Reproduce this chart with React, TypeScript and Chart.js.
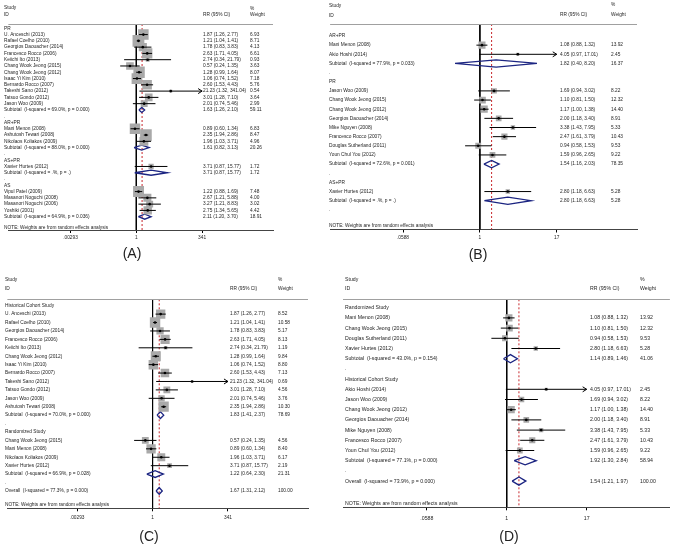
import React, { useEffect, useRef } from "react";
import { Chart, registerables } from "chart.js";
Chart.register(...registerables);

// ---------------- Panel A data ----------------
const A_labels = [
  "PR", "U. Anceschi (2013)", "Rafael Coelho (2010)", "Georgios Daouacher (2014)", "Francesco Rocco (2006)",
  "Keiichi Ito (2013)", "Chang Wook Jeong (2015)", "Chang Wook Jeong (2012)", "Isaac Yi Kim (2010)",
  "Bernardo Rocco (2007)", "Takeshi Sano (2012)", "Tatsuo Gondo (2012)", "Jason Woo (2009)",
  "Subtotal  (I-squared = 69.0%, p = 0.000)", ".", "AR+PR", "Mani Menon (2008)", "Ashutosh Tewari (2008)",
  "Nikolaos Koliakos (2009)", "Subtotal  (I-squared = 88.0%, p = 0.000)", ".", "AS+PR", "Xavier Hurtes (2012)",
  "Subtotal  (I-squared = .%, p = .)", ".", "AS", "Vipul Patel (2009)", "Masanori Noguchi (2008)",
  "Masanori Noguchi (2006)", "Yoshiki (2001)", "Subtotal  (I-squared = 64.9%, p = 0.036)",
];
const A_est = [null, 1.87, 1.21, 1.78, 2.63, 2.74, 0.57, 1.28, 1.06, 2.6, 21.23, 3.01, 2.01, 1.63, null, null, 0.89, 2.35, 1.96, 1.61, null, null, 3.71, 3.71, null, null, 1.22, 2.67, 3.27, 2.75, 2.11];
const A_lo = [null, 1.26, 1.04, 0.83, 1.71, 0.34, 0.24, 0.99, 0.74, 1.53, 1.32, 1.28, 0.74, 1.26, null, null, 0.6, 1.94, 1.03, 0.82, null, null, 0.87, 0.87, null, null, 0.88, 1.21, 1.21, 1.34, 1.2];
const A_hi = [null, 2.77, 1.41, 3.83, 4.05, 21.79, 1.35, 1.64, 1.52, 4.43, 341.04, 7.1, 5.46, 2.1, null, null, 1.34, 2.86, 3.71, 3.13, null, null, 15.77, 15.77, null, null, 1.69, 5.88, 8.83, 5.65, 3.7];
const A_wt = [null, 6.93, 8.71, 4.13, 6.61, 0.93, 3.63, 8.07, 7.18, 5.76, 0.54, 3.64, 2.99, 59.11, null, null, 6.83, 8.47, 4.96, 20.26, null, null, 1.72, 1.72, null, null, 7.48, 4.0, 3.02, 4.42, 18.91];

// ---------------- Panel B data ----------------
const B_labels = [
  "AR+PR", "Mani Menon (2008)", "Akio Hoshi (2014)", "Subtotal  (I-squared = 77.9%, p = 0.033)", ".",
  "PR", "Jason Woo (2009)", "Chang Wook Jeong (2015)", "Chang Wook Jeong (2012)", "Georgios Daouacher (2014)",
  "Mike Nguyen (2008)", "Francesco Rocco (2007)", "Douglas Sutherland (2011)", "Youn Chul You (2012)",
  "Subtotal  (I-squared = 72.6%, p = 0.001)", ".", "AS+PR", "Xavier Hurtes (2012)",
  "Subtotal  (I-squared = .%, p = .)", ".",
];
const B_est = [null, 1.08, 4.05, 1.82, null, null, 1.69, 1.1, 1.17, 2.0, 3.38, 2.47, 0.94, 1.59, 1.54, null, null, 2.8, 2.8, null];
const B_lo = [null, 0.88, 0.97, 0.4, null, null, 0.94, 0.81, 1.0, 1.18, 1.43, 1.61, 0.58, 0.96, 1.16, null, null, 1.18, 1.18, null];
const B_hi = [null, 1.32, 17.01, 8.2, null, null, 3.02, 1.5, 1.38, 3.4, 7.95, 3.79, 1.53, 2.65, 2.03, null, null, 6.63, 6.63, null];
const B_wt = [null, 13.92, 2.45, 16.37, null, null, 8.22, 12.32, 14.4, 8.91, 5.33, 10.43, 9.53, 9.22, 78.35, null, null, 5.28, 5.28, null];

// ---------------- Panel C data ----------------
const C_labels = [
  "Historical Cohort Study", "U. Anceschi (2013)", "Rafael Coelho (2010)", "Georgios Daouacher (2014)",
  "Francesco Rocco (2006)", "Keiichi Ito (2013)", "Chang Wook Jeong (2012)", "Isaac Yi Kim (2010)",
  "Bernardo Rocco (2007)", "Takeshi Sano (2012)", "Tatsuo Gondo (2012)", "Jason Woo (2009)",
  "Ashutosh Tewari (2008)", "Subtotal  (I-squared = 70.0%, p = 0.000)", ".", "Randomized Study",
  "Chang Wook Jeong (2015)", "Mani Menon (2008)", "Nikolaos Koliakos (2009)", "Xavier Hurtes (2012)",
  "Subtotal  (I-squared = 66.9%, p = 0.028)", ".", "Overall  (I-squared = 77.3%, p = 0.000)",
];
const C_est = [null, 1.87, 1.21, 1.78, 2.63, 2.74, 1.28, 1.06, 2.6, 21.23, 3.01, 2.01, 2.35, 1.83, null, null, 0.57, 0.89, 1.96, 3.71, 1.22, null, 1.67];
const C_lo = [null, 1.26, 1.04, 0.83, 1.71, 0.34, 0.99, 0.74, 1.53, 1.32, 1.28, 0.74, 1.94, 1.41, null, null, 0.24, 0.6, 1.03, 0.87, 0.64, null, 1.31];
const C_hi = [null, 2.77, 1.41, 3.83, 4.05, 21.79, 1.64, 1.52, 4.43, 341.04, 7.1, 5.46, 2.86, 2.37, null, null, 1.35, 1.34, 3.71, 15.77, 2.3, null, 2.12];
const C_wt = [null, 8.52, 10.58, 5.17, 8.13, 1.19, 9.84, 8.8, 7.13, 0.69, 4.56, 3.76, 10.3, 78.69, null, null, 4.56, 8.4, 6.17, 2.19, 21.31, null, 100.0];

// ---------------- Panel D data ----------------
const D_labels = [
  "Randomized Study", "Mani Menon (2008)", "Chang Wook Jeong (2015)", "Douglas Sutherland (2011)",
  "Xavier Hurtes (2012)", "Subtotal  (I-squared = 43.0%, p = 0.154)", ".", "Historical Cohort Study",
  "Akio Hoshi (2014)", "Jason Woo (2009)", "Chang Wook Jeong (2012)", "Georgios Daouacher (2014)",
  "Mike Nguyen (2008)", "Francesco Rocco (2007)", "Youn Chul You (2012)",
  "Subtotal  (I-squared = 77.1%, p = 0.000)", ".", "Overall  (I-squared = 73.9%, p = 0.000)",
];
const D_est = [null, 1.08, 1.1, 0.94, 2.8, 1.14, null, null, 4.05, 1.69, 1.17, 2.0, 3.38, 2.47, 1.59, 1.92, null, 1.54];
const D_lo = [null, 0.88, 0.81, 0.58, 1.18, 0.89, null, null, 0.97, 0.94, 1.0, 1.18, 1.43, 1.61, 0.96, 1.3, null, 1.21];
const D_hi = [null, 1.32, 1.5, 1.53, 6.63, 1.46, null, null, 17.01, 3.02, 1.38, 3.4, 7.95, 3.79, 2.65, 2.84, null, 1.97];
const D_wt = [null, 13.92, 12.32, 9.53, 5.28, 41.06, null, null, 2.45, 8.22, 14.4, 8.91, 5.33, 10.43, 9.22, 58.94, null, 100.0];

// ---------------- axes ----------------
const ticksWide = [0.00293, 1, 341];
const ticksWideLabels = [".00293", "1", "341"];
const ticksNarrow = [0.0588, 1, 17];
const ticksNarrowLabels = [".0588", "1", "17"];
const overallAC = 1.67;
const overallBD = 1.54;

const NOTE = "NOTE: Weights are from random effects analysis";
const FONT = '"Liberation Sans", Arial, sans-serif';

type Layout = {
  left: number; top: number; w: number; h: number;
  axisL: number; axisR: number; one: number; k: number;
  headerY: number; axisY: number; row0: number; step: number; noteY: number;
  labelX: number; ciX: number; wtX: number;
  studyY: number; idY: number; pctY: number; rrY: number;
  font: number; tickPad: number; boxK: number; letterX: number; letterY: number;
};

type Panel = {
  labels: string[]; est: (number | null)[]; lo: (number | null)[]; hi: (number | null)[]; wt: (number | null)[];
  overall: number; tickVals: number[]; tickLabels: string[]; letter: string; lay: Layout;
};

const panels: Panel[] = [
  {
    labels: A_labels, est: A_est, lo: A_lo, hi: A_hi, wt: A_wt, overall: overallAC,
    tickVals: ticksWide, tickLabels: ticksWideLabels, letter: "(A)",
    lay: {
      left: 0, top: 0, w: 325, h: 270, axisL: 1, axisR: 273, one: 132.5, k: 11.6,
      headerY: 24, axisY: 230, row0: 28.3, step: 6.28, noteY: 227.3,
      labelX: 4, ciX: 203, wtX: 250, studyY: 8, idY: 15, pctY: 9, rrY: 15,
      font: 4.8, tickPad: 2, boxK: 4.0, letterX: 132, letterY: 254,
    },
  },
  {
    labels: B_labels, est: B_est, lo: B_lo, hi: B_hi, wt: B_wt, overall: overallBD,
    tickVals: ticksNarrow, tickLabels: ticksNarrowLabels, letter: "(B)",
    lay: {
      left: 325, top: 0, w: 350, h: 270, axisL: 327, axisR: 637, one: 478.3, k: 27.4,
      headerY: 24, axisY: 229.5, row0: 36, step: 9.15, noteY: 225.7,
      labelX: 329, ciX: 560, wtX: 611, studyY: 6, idY: 16, pctY: 5, rrY: 15,
      font: 4.8, tickPad: 2.5, boxK: 1.9, letterX: 478, letterY: 255,
    },
  },
  {
    labels: C_labels, est: C_est, lo: C_lo, hi: C_hi, wt: C_wt, overall: overallAC,
    tickVals: ticksWide, tickLabels: ticksWideLabels, letter: "(C)",
    lay: {
      left: 0, top: 270, w: 325, h: 274, axisL: 1, axisR: 308, one: 149.3, k: 13.2,
      headerY: 299.3, axisY: 508.3, row0: 305.7, step: 8.42, noteY: 504.3,
      labelX: 5, ciX: 230, wtX: 278, studyY: 280, idY: 289, pctY: 280, rrY: 289,
      font: 4.8, tickPad: 3, boxK: 3.2, letterX: 149, letterY: 537,
    },
  },
  {
    labels: D_labels, est: D_est, lo: D_lo, hi: D_hi, wt: D_wt, overall: overallBD,
    tickVals: ticksNarrow, tickLabels: ticksNarrowLabels, letter: "(D)",
    lay: {
      left: 325, top: 270, w: 350, h: 274, axisL: 343, axisR: 675, one: 509.3, k: 28.65,
      headerY: 299.3, axisY: 507.3, row0: 307.7, step: 10.2, noteY: 503.3,
      labelX: 345, ciX: 590, wtX: 640, studyY: 280, idY: 289, pctY: 280, rrY: 289,
      font: 5.2, tickPad: 5, boxK: 1.9, letterX: 509, letterY: 537,
    },
  },
];

const f2 = (v: number) => v.toFixed(2);
const isSummary = (s: string) => s.startsWith("Subtotal") || s.startsWith("Overall");

function makePlugin(p: Panel) {
  const L = p.lay;
  const tickMax = p.tickVals[p.tickVals.length - 1];
  return {
    id: "forestText" + p.letter,
    afterDraw(chart: any) {
      const ctx = chart.ctx;
      const ys = chart.scales.y;
      const xs = chart.scales.x;
      const ca = chart.chartArea;
      const ox = L.left, oy = L.top;
      ctx.save();
      // header rule
      ctx.strokeStyle = "#a0a0a0";
      ctx.lineWidth = 1;
      ctx.beginPath();
      ctx.moveTo(ca.left, Math.round(ca.top) + 0.5);
      ctx.lineTo(ca.right, Math.round(ca.top) + 0.5);
      ctx.stroke();
      // texts
      ctx.font = `${L.font}px ${FONT}`;
      ctx.fillStyle = "#1e1e1e";
      ctx.textBaseline = "middle";
      ctx.textAlign = "left";
      ctx.fillText("Study", L.labelX - ox, L.studyY - oy);
      ctx.fillText("ID", L.labelX - ox, L.idY - oy);
      ctx.fillText("RR (95% CI)", L.ciX - ox, L.rrY - oy);
      ctx.fillText("%", L.wtX - ox, L.pctY - oy);
      ctx.fillText("Weight", L.wtX - ox, L.rrY - oy);
      p.labels.forEach((lab, i) => {
        const y = ys.getPixelForValue(i);
        ctx.fillText(lab, L.labelX - ox, y);
        const e = p.est[i], lo = p.lo[i], hi = p.hi[i], w = p.wt[i];
        if (e != null && lo != null && hi != null && w != null) {
          ctx.fillText(`${f2(e)} (${f2(lo)}, ${f2(hi)})`, L.ciX - ox, y);
          ctx.fillText(f2(w), L.wtX - ox, y);
        }
      });
      ctx.fillText(NOTE, L.labelX - ox, ys.getPixelForValue((L.noteY - L.row0) / L.step));
      // arrows for truncated CIs
      ctx.strokeStyle = "#000";
      ctx.lineWidth = 1;
      p.labels.forEach((lab, i) => {
        const hi = p.hi[i];
        if (hi != null && hi > tickMax && !isSummary(lab)) {
          const tx = xs.getPixelForValue(tickMax);
          const ty = ys.getPixelForValue(i);
          ctx.beginPath();
          ctx.moveTo(tx - 4, ty - 2.5);
          ctx.lineTo(tx, ty);
          ctx.lineTo(tx - 4, ty + 2.5);
          ctx.stroke();
        }
      });
      // panel letter
      ctx.font = `14px ${FONT}`;
      ctx.fillStyle = "#222";
      ctx.textAlign = "center";
      ctx.fillText(p.letter, L.letterX - ox, L.letterY - oy);
      ctx.restore();
    },
  };
}

function ForestPanel({ p }: { p: Panel }) {
  const ref = useRef<HTMLCanvasElement | null>(null);
  useEffect(() => {
    if (!ref.current) return;
    const L = p.lay;
    const tickMax = p.tickVals[p.tickVals.length - 1];
    const fitH = 16;
    const yMin = (L.headerY - L.row0) / L.step;
    const yMax = (L.axisY - L.row0) / L.step;
    const xMin = Math.exp((L.axisL - L.one) / L.k);
    const xMax = Math.exp((L.axisR - L.one) / L.k);

    const boxes: any[] = [];
    const dots: any[] = [];
    const ci: any[] = [];
    const dia: any[] = [];
    const h = 0.4;
    p.labels.forEach((lab, i) => {
      const e = p.est[i], lo = p.lo[i], hi = p.hi[i], w = p.wt[i];
      if (e == null || lo == null || hi == null || w == null) return;
      if (isSummary(lab)) {
        dia.push({ x: lo, y: i }, { x: e, y: i - h }, { x: Math.min(hi, tickMax), y: i }, { x: e, y: i + h }, { x: lo, y: i }, { x: NaN, y: NaN });
      } else {
        boxes.push({ x: e, y: i, w });
        dots.push({ x: e, y: i });
        ci.push({ x: lo, y: i }, { x: Math.min(hi, tickMax), y: i }, { x: NaN, y: NaN });
      }
    });

    const chart = new Chart(ref.current, {
      type: "scatter",
      data: {
        datasets: [
          { data: dots, pointStyle: "circle", pointRadius: 1.3, backgroundColor: "#000", borderWidth: 0, showLine: false, order: 0 } as any,
          { data: ci, showLine: true, borderColor: "#000", borderWidth: 1, pointRadius: 0, spanGaps: false, order: 1 } as any,
          {
            data: boxes, showLine: false, pointStyle: "rect", backgroundColor: "#a9a9a9", borderWidth: 0, order: 2,
            pointRadius: (c: any) => (c.raw ? (L.boxK * Math.sqrt(c.raw.w)) / Math.SQRT2 : 0),
          } as any,
          { data: dia, showLine: true, borderColor: "#1c2582", borderWidth: 1.3, pointRadius: 0, spanGaps: false, order: 3 } as any,
          { data: [{ x: 1, y: yMin }, { x: 1, y: yMax }], showLine: true, borderColor: "#000", borderWidth: 1, pointRadius: 0, order: 4 } as any,
          {
            data: [{ x: p.overall, y: yMin }, { x: p.overall, y: yMax }], showLine: true, borderColor: "#c8282d",
            borderWidth: 1, borderDash: [2, 2], pointRadius: 0, order: 5,
          } as any,
        ],
      },
      options: {
        responsive: false,
        animation: false,
        devicePixelRatio: 1,
        events: [],
        layout: {
          padding: {
            left: L.axisL - L.left,
            right: L.left + L.w - L.axisR,
            top: L.headerY - L.top,
            bottom: L.top + L.h - L.axisY - fitH,
          },
        },
        plugins: { legend: { display: false }, tooltip: { enabled: false } },
        scales: {
          x: {
            type: "logarithmic",
            min: xMin,
            max: xMax,
            bounds: "data",
            afterBuildTicks: (s: any) => {
              s.ticks = p.tickVals.map((v) => ({ value: v }));
            },
            afterFit: (s: any) => {
              s.height = fitH;
            },
            ticks: {
              autoSkip: false,
              maxRotation: 0,
              minRotation: 0,
              padding: L.tickPad,
              color: "#1e1e1e",
              font: { size: L.font, family: FONT },
              callback: (_v: any, idx: number) => p.tickLabels[idx],
            },
            grid: { display: true, drawOnChartArea: false, drawTicks: true, tickLength: 3, color: "#000", lineWidth: 1 },
            border: { display: true, color: "#444", width: 1 },
          },
          y: { type: "linear", reverse: true, min: yMin, max: yMax, display: false, bounds: "data" },
        },
      } as any,
      plugins: [makePlugin(p)],
    });
    return () => chart.destroy();
  }, [p]);
  const L = p.lay;
  return (
    <canvas
      ref={ref}
      width={L.w}
      height={L.h}
      style={{ position: "absolute", left: L.left, top: L.top, width: L.w, height: L.h }}
    />
  );
}

export default function App() {
  return (
    <div style={{ position: "absolute", left: 0, top: 0, width: 675, height: 544, background: "#fff", overflow: "hidden" }}>
      {panels.map((p) => (
        <ForestPanel key={p.letter} p={p} />
      ))}
    </div>
  );
}
